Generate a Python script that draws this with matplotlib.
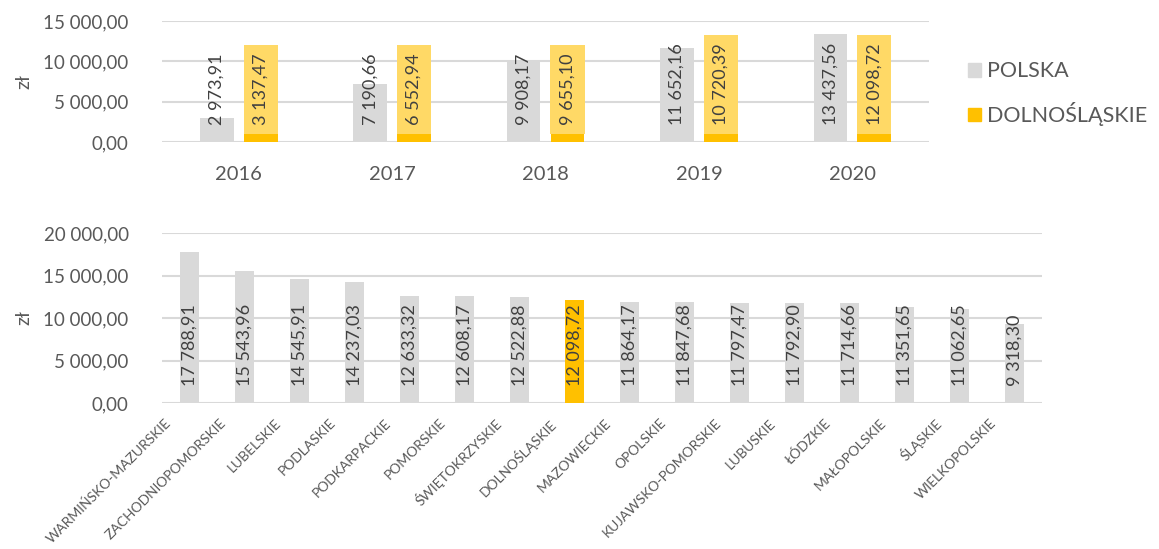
import matplotlib.pyplot as plt
import numpy as np
from matplotlib.patches import Patch

plt.rcParams['font.family'] = ['Lato', 'DejaVu Sans']

# yearly averages: Poland vs. Lower Silesia
years = ['2016', '2017', '2018', '2019', '2020']
polska = [2973.91, 7190.66, 9908.17, 11652.16, 13437.56]
dolnoslaskie = [3137.47, 6552.94, 9655.10, 10720.39, 12098.72]

# 2020 by voivodeship
regions = ['WARMIŃSKO-MAZURSKIE', 'ZACHODNIOPOMORSKIE', 'LUBELSKIE', 'PODLASKIE',
           'PODKARPACKIE', 'POMORSKIE', 'ŚWIĘTOKRZYSKIE', 'DOLNOŚLĄSKIE',
           'MAZOWIECKIE', 'OPOLSKIE', 'KUJAWSKO-POMORSKIE', 'LUBUSKIE',
           'ŁÓDZKIE', 'MAŁOPOLSKIE', 'ŚLĄSKIE', 'WIELKOPOLSKIE']
region_values = [17788.91, 15543.96, 14545.91, 14237.03, 12633.32, 12608.17,
                 12522.88, 12098.72, 11864.17, 11847.68, 11797.47, 11792.90,
                 11714.66, 11351.65, 11062.65, 9318.30]

GRAY = '#D9D9D9'
YELLOW = '#FFC000'
LIGHT_YELLOW = '#FFD966'
TEXT = '#595959'
LABEL = '#404040'


def pl(v):
    return f'{v:,.2f}'.replace(',', ' ').replace('.', ',')


def style_axis(ax, ymax, step):
    ax.set_ylim(0, ymax)
    ax.set_yticks(np.arange(0, ymax + 1, step))
    ax.set_yticklabels([pl(t) for t in np.arange(0, ymax + 1, step)])
    ax.grid(axis='y', color=GRAY, linewidth=1.5)
    ax.set_axisbelow(True)
    for s in ax.spines.values():
        s.set_visible(False)
    ax.tick_params(length=0, colors=TEXT, labelsize=13.5, pad=24)
    ax.set_ylabel('zł', color=TEXT, fontsize=14, labelpad=8)


fig = plt.figure(figsize=(11.59, 5.49), dpi=100)

# top: yearly comparison
ax1 = fig.add_axes([0.1398, 0.7413, 0.6618, 0.2204])
x = np.arange(len(years))
w = 0.22
off = 0.143
ax1.bar(x - off, polska, w, color=GRAY)
ax1.bar(x + off, dolnoslaskie, w, color=YELLOW)
ax1.set_xlim(-0.5, len(years) - 0.5)
style_axis(ax1, 15000, 5000)
ax1.set_xticks(x)
ax1.set_xticklabels(years, fontsize=14.5)
ax1.tick_params(axis='x', pad=17)

for xi, v in zip(x, polska):
    ax1.annotate(pl(v), (xi - off, 0), xytext=(0, 12), textcoords='offset points',
                 rotation=90, ha='center', va='bottom', fontsize=13, color=LABEL)
for xi, v in zip(x, dolnoslaskie):
    ax1.annotate(pl(v), (xi + off, 0), xytext=(0, 12), textcoords='offset points',
                 rotation=90, ha='center', va='bottom', fontsize=13, color=LABEL,
                 bbox=dict(boxstyle='square,pad=0.5', fc=LIGHT_YELLOW, ec='none'))

handles = [Patch(color=GRAY, label='POLSKA'), Patch(color=YELLOW, label='DOLNOŚLĄSKIE')]
fig.legend(handles=handles, loc='upper left', bbox_to_anchor=(0.835, 0.888),
           frameon=False, fontsize=15.5, labelcolor=TEXT, handlelength=0.6,
           handleheight=0.6, handletextpad=0.3, labelspacing=0.95,
           borderpad=0, borderaxespad=0)

# bottom: voivodeships
ax2 = fig.add_axes([0.1398, 0.2659, 0.7592, 0.3097])
xr = np.arange(len(regions))
colors = [YELLOW if r == 'DOLNOŚLĄSKIE' else GRAY for r in regions]
ax2.bar(xr, region_values, 0.33, color=colors)
ax2.set_xlim(-0.5, len(regions) - 0.5)
style_axis(ax2, 20000, 5000)
ax2.set_xticks(xr)
ax2.set_xticklabels([])
for xi, name in zip(xr, regions):
    ax2.annotate(name, (xi, 0), xytext=(-15, -13), textcoords='offset points',
                 rotation=45, ha='right', va='center', rotation_mode='anchor',
                 fontsize=10, color=TEXT, annotation_clip=False)
for xi, v in zip(xr, region_values):
    ax2.annotate(pl(v), (xi, 0), xytext=(0, 12), textcoords='offset points',
                 rotation=90, ha='center', va='bottom', fontsize=13, color=LABEL)

fig.savefig('out.png', dpi=100)
